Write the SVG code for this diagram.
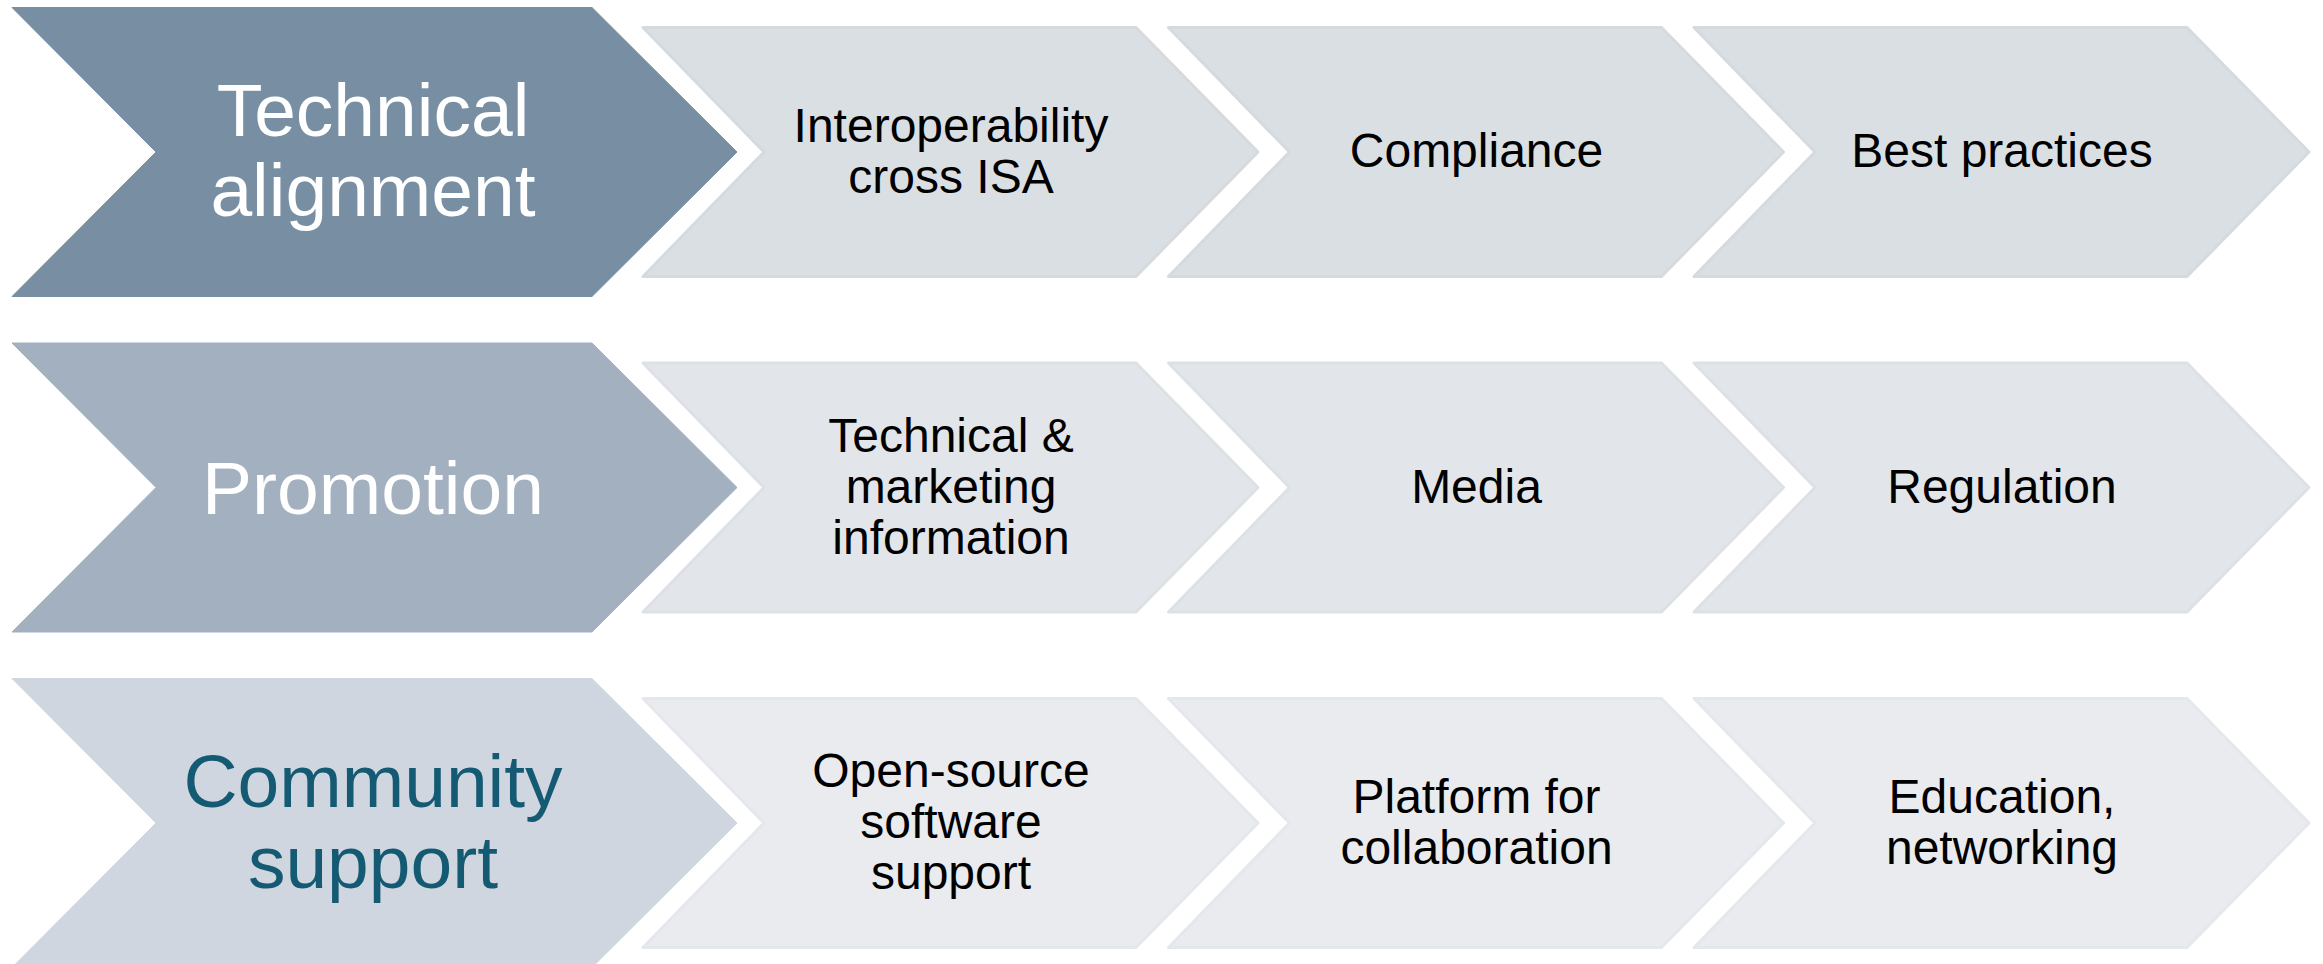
<svg xmlns="http://www.w3.org/2000/svg" width="2323" height="964" viewBox="0 0 2323 964">
<style>
.big{stroke-linejoin:round;stroke-width:1}
.sm{stroke-linejoin:round;stroke-width:3}
.r1b{fill:#788ea3;stroke:#788ea3}
.r2b{fill:#a2b0bf;stroke:#a2b0bf}
.r3b{fill:#d0d6df;stroke:#d0d6df}
.r1s{fill:#dadfe3;stroke:#d5dadf}
.r2s{fill:#e2e5e9;stroke:#dde1e5}
.r3s{fill:#e9ebef;stroke:#e4e7eb}
text{font-family:"Liberation Sans",Helvetica,Arial,sans-serif;text-anchor:middle}
.bt{font-size:75px;fill:#ffffff}
.bt3{font-size:75px;fill:#155a73}
.st{font-size:48px;fill:#000000}
</style>
<rect width="2323" height="964" fill="#ffffff"/>
<g id="connectors"/>
<!-- Row 1 cy=152 -->
<g id="technical-alignment">
<polygon class="big r1b" points="12,7.5 592,7.5 737,152 592,296.5 12,296.5 156,152"/>
<text class="bt" x="373" y="136">Technical</text>
<text class="bt" x="373" y="216">alignment</text>
</g>
<g id="interoperability">
<polygon class="sm r1s" points="643,27.5 1136,27.5 1258,152 1136,276.5 643,276.5 764,152"/>
<text class="st" x="951" y="141.5">Interoperability</text>
<text class="st" x="951" y="192.5">cross ISA</text>
</g>
<g id="compliance">
<polygon class="sm r1s" points="1168.5,27.5 1661.5,27.5 1783.5,152 1661.5,276.5 1168.5,276.5 1289.5,152"/>
<text class="st" x="1476.5" y="167">Compliance</text>
</g>
<g id="best-practices">
<polygon class="sm r1s" points="1694,27.5 2187,27.5 2309,152 2187,276.5 1694,276.5 1815,152"/>
<text class="st" x="2002" y="167">Best practices</text>
</g>
<!-- Row 2 cy=487.5 -->
<g id="promotion">
<polygon class="big r2b" points="12,343 592,343 737,487.5 592,632 12,632 156,487.5"/>
<text class="bt" x="373" y="514">Promotion</text>
</g>
<g id="technical-marketing">
<polygon class="sm r2s" points="643,363 1136,363 1258,487.5 1136,612 643,612 764,487.5"/>
<text class="st" x="951" y="451.5">Technical &amp;</text>
<text class="st" x="951" y="502.5">marketing</text>
<text class="st" x="951" y="553.5">information</text>
</g>
<g id="media">
<polygon class="sm r2s" points="1168.5,363 1661.5,363 1783.5,487.5 1661.5,612 1168.5,612 1289.5,487.5"/>
<text class="st" x="1476.5" y="502.5">Media</text>
</g>
<g id="regulation">
<polygon class="sm r2s" points="1694,363 2187,363 2309,487.5 2187,612 1694,612 1815,487.5"/>
<text class="st" x="2002" y="502.5">Regulation</text>
</g>
<!-- Row 3 cy=823 -->
<g id="community-support">
<polygon class="big r3b" points="12,678.5 592,678.5 737,823 592,967.5 12,967.5 156,823"/>
<text class="bt3" x="373" y="807">Community</text>
<text class="bt3" x="373" y="887.5">support</text>
</g>
<g id="open-source">
<polygon class="sm r3s" points="643,698.5 1136,698.5 1258,823 1136,947.5 643,947.5 764,823"/>
<text class="st" x="951" y="787">Open-source</text>
<text class="st" x="951" y="838">software</text>
<text class="st" x="951" y="889">support</text>
</g>
<g id="platform">
<polygon class="sm r3s" points="1168.5,698.5 1661.5,698.5 1783.5,823 1661.5,947.5 1168.5,947.5 1289.5,823"/>
<text class="st" x="1476.5" y="812.5">Platform for</text>
<text class="st" x="1476.5" y="863.5">collaboration</text>
</g>
<g id="education">
<polygon class="sm r3s" points="1694,698.5 2187,698.5 2309,823 2187,947.5 1694,947.5 1815,823"/>
<text class="st" x="2002" y="812.5">Education,</text>
<text class="st" x="2002" y="863.5">networking</text>
</g>
</svg>
